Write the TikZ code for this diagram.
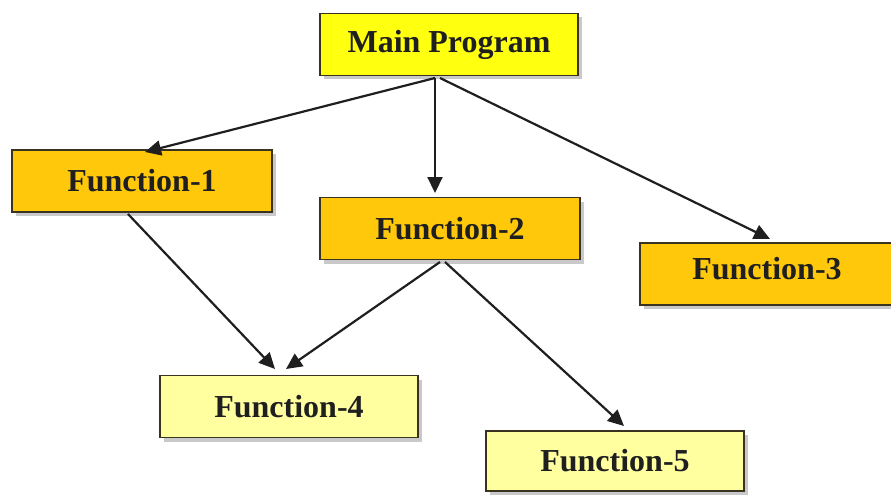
\documentclass[tikz,border=0pt]{standalone}
\usepackage{fontspec}
\setmainfont{Liberation Serif}
\usetikzlibrary{shadows,arrows.meta}
\definecolor{mainyel}{HTML}{FFFF10}
\definecolor{gold}{HTML}{FFC80A}
\definecolor{pale}{HTML}{FFFFA0}
\definecolor{edge}{HTML}{3A3320}
\tikzset{
  boxtext/.style={font=\fontsize{32}{38}\selectfont\bfseries, text=black!88},
  box/.style={draw=edge, line width=1.8pt, minimum width=258pt, minimum height=62pt,
    inner sep=0pt, boxtext,
    drop shadow={shadow xshift=4pt, shadow yshift=-4pt, fill=black!35, opacity=0.6}},
  arr/.style={-{Triangle[length=16pt,width=15pt]}, line width=2.2pt, draw=black!88}
}
\begin{document}
\begin{tikzpicture}[x=1pt,y=-1pt]
\useasboundingbox[fill=white] (0,0) rectangle (891,500);
\node[box, fill=mainyel] (main) at (449,44.5) {Main Program};
\node[box, fill=gold, minimum width=260pt] (f1) at (142,181) {Function-1};
\node[box, fill=gold, minimum width=260pt] (f2) at (450,228.5) {Function-2};
\node[box, fill=gold, minimum width=260pt] (f3) at (770,274) {};
\node[boxtext] (f3t) at (767,269) {Function-3};
\node[box, fill=pale] (f4) at (289,406.5) {Function-4};
\node[box, fill=pale, minimum height=60pt] (f5) at (615,461) {Function-5};
\coordinate (m1) at (435,78);
\coordinate (m2) at (440,78);
\coordinate (t1) at (145,152);
\coordinate (t2) at (435,193);
\coordinate (t3) at (770,239);
\coordinate (b1) at (128,214);
\coordinate (t4a) at (275,369);
\coordinate (b2) at (440,262);
\coordinate (b2r) at (445,262);
\coordinate (t4b) at (286,369);
\coordinate (t5) at (624,426);
\draw[arr] (m1) -- (t1);
\draw[arr] (m1) -- (t2);
\draw[arr] (m2) -- (t3);
\draw[arr] (b1) -- (t4a);
\draw[arr] (b2) -- (t4b);
\draw[arr] (b2r) -- (t5);
\end{tikzpicture}
\end{document}
